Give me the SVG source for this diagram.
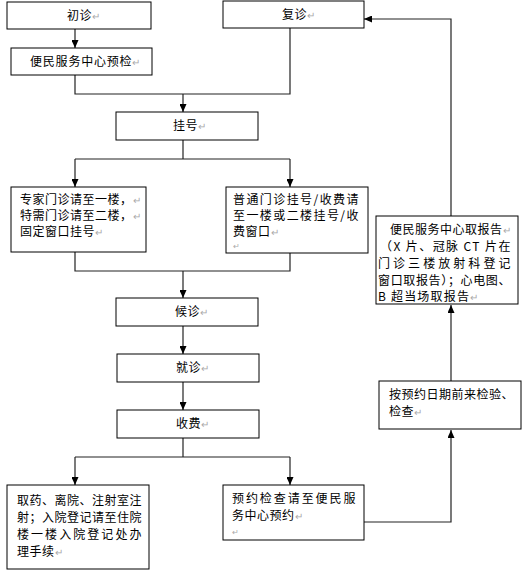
<svg xmlns="http://www.w3.org/2000/svg" width="524" height="575" viewBox="0 0 524 575">
<defs>
<marker id="arr" markerUnits="userSpaceOnUse" markerWidth="8" markerHeight="7" refX="8" refY="3.5" orient="auto">
<path d="M0,0 L8,3.5 L0,7 z" fill="#000"/>
</marker>
<style>
rect{fill:#fff;stroke:#000;stroke-width:1}
text{font-family:"Noto Sans CJK SC","Noto Sans",sans-serif;font-size:12px;fill:#000;letter-spacing:0.5px}
.pm{fill:#aaa;font-size:10px;letter-spacing:0}
.c path{fill:none;stroke:#222;stroke-width:1.2}
.a{marker-end:url(#arr)}
</style>
</defs>
<rect x="0" y="0" width="524" height="575" style="fill:#fff;stroke:none"/>
<g class="c" id="connectors">
<path class="a" d="M75,29 V48"/>
<path d="M75,75 V94 H290 V28"/>
<path class="a" d="M183,94 V112"/>
<path d="M183,140 V159"/>
<path d="M75,159 H290"/>
<path class="a" d="M75,159 V187"/>
<path class="a" d="M290,159 V187"/>
<path d="M75,252 V271 H290 V253"/>
<path class="a" d="M183,271 V298"/>
<path class="a" d="M183,326 V354"/>
<path class="a" d="M183,382 V410"/>
<path d="M183,438 V457"/>
<path d="M75,457 H290"/>
<path class="a" d="M75,457 V485"/>
<path class="a" d="M290,457 V485"/>
<path class="a" d="M364,522 H451 V430"/>
<path class="a" d="M451,381 V305"/>
<path class="a" d="M451,216 V19 H364"/>
</g>
<g id="chuzhen">
<rect x="7" y="2" width="144" height="27"/>
<text x="67" y="20">初诊<tspan class="pm">↵</tspan></text>
</g>
<g id="fuzhen">
<rect x="223" y="1" width="141" height="27"/>
<text x="282" y="19">复诊<tspan class="pm">↵</tspan></text>
</g>
<g id="yujian">
<rect x="11" y="48" width="141" height="27"/>
<text x="30" y="66" style="letter-spacing:0.8px">便民服务中心预检<tspan class="pm">↵</tspan></text>
</g>
<g id="guahao">
<rect x="116" y="112" width="142" height="28"/>
<text x="173" y="130">挂号<tspan class="pm">↵</tspan></text>
</g>
<g id="zhuanjia">
<rect x="11" y="187" width="135" height="65"/>
<text x="20" y="204">专家门诊请至一楼，<tspan class="pm">↵</tspan></text>
<text x="20" y="220">特需门诊请至二楼，<tspan class="pm">↵</tspan></text>
<text x="20" y="236">固定窗口挂号<tspan class="pm">↵</tspan></text>
</g>
<g id="putong">
<rect x="226" y="187" width="142" height="66"/>
<text x="233" y="204" textLength="126" lengthAdjust="spacing">普通门诊挂号/收费请</text>
<text x="233" y="220" textLength="126" lengthAdjust="spacing">至一楼或二楼挂号/收</text>
<text x="233" y="236">费窗口<tspan class="pm">↵</tspan></text>
<text x="233" y="249" class="pm" style="font-size:8px">↵</text>
</g>
<g id="houzhen">
<rect x="116" y="298" width="142" height="28"/>
<text x="175" y="316">候诊<tspan class="pm">↵</tspan></text>
</g>
<g id="jiuzhen">
<rect x="117" y="354" width="142" height="28"/>
<text x="176" y="372">就诊<tspan class="pm">↵</tspan></text>
</g>
<g id="shoufei">
<rect x="117" y="410" width="142" height="28"/>
<text x="176" y="428">收费<tspan class="pm">↵</tspan></text>
</g>
<g id="quyao">
<rect x="7" y="485" width="142" height="84"/>
<text x="17" y="505" textLength="125" lengthAdjust="spacing">取药、离院、注射室注</text>
<text x="17" y="522" textLength="125" lengthAdjust="spacing">射；入院登记请至住院</text>
<text x="17" y="539" textLength="125" lengthAdjust="spacing">楼一楼入院登记处办</text>
<text x="17" y="556">理手续<tspan class="pm">↵</tspan></text>
</g>
<g id="yuyue">
<rect x="223" y="485" width="141" height="55"/>
<text x="232" y="503" textLength="124" lengthAdjust="spacing">预约检查请至便民服</text>
<text x="232" y="520">务中心预约<tspan class="pm">↵</tspan></text>
<text x="232" y="535" class="pm" style="font-size:8px">↵</text>
</g>
<g id="anyuyue">
<rect x="379" y="381" width="142" height="48"/>
<text x="389" y="399" textLength="125" lengthAdjust="spacing">按预约日期前来检验、</text>
<text x="389" y="416">检查<tspan class="pm">↵</tspan></text>
</g>
<g id="qubaogao">
<rect x="376" y="216" width="142" height="88"/>
<text x="390" y="234">便民服务中心取报告<tspan class="pm">↵</tspan></text>
<text x="380" y="251" textLength="131" lengthAdjust="spacing">（X 片、冠脉 CT 片在</text>
<text x="378" y="268" textLength="133" lengthAdjust="spacing">门诊三楼放射科登记</text>
<text x="378" y="285" textLength="133" lengthAdjust="spacing">窗口取报告）；心电图、</text>
<text x="378" y="301" style="letter-spacing:1.2px">B 超当场取报告<tspan class="pm">↵</tspan></text>
</g>
</svg>
